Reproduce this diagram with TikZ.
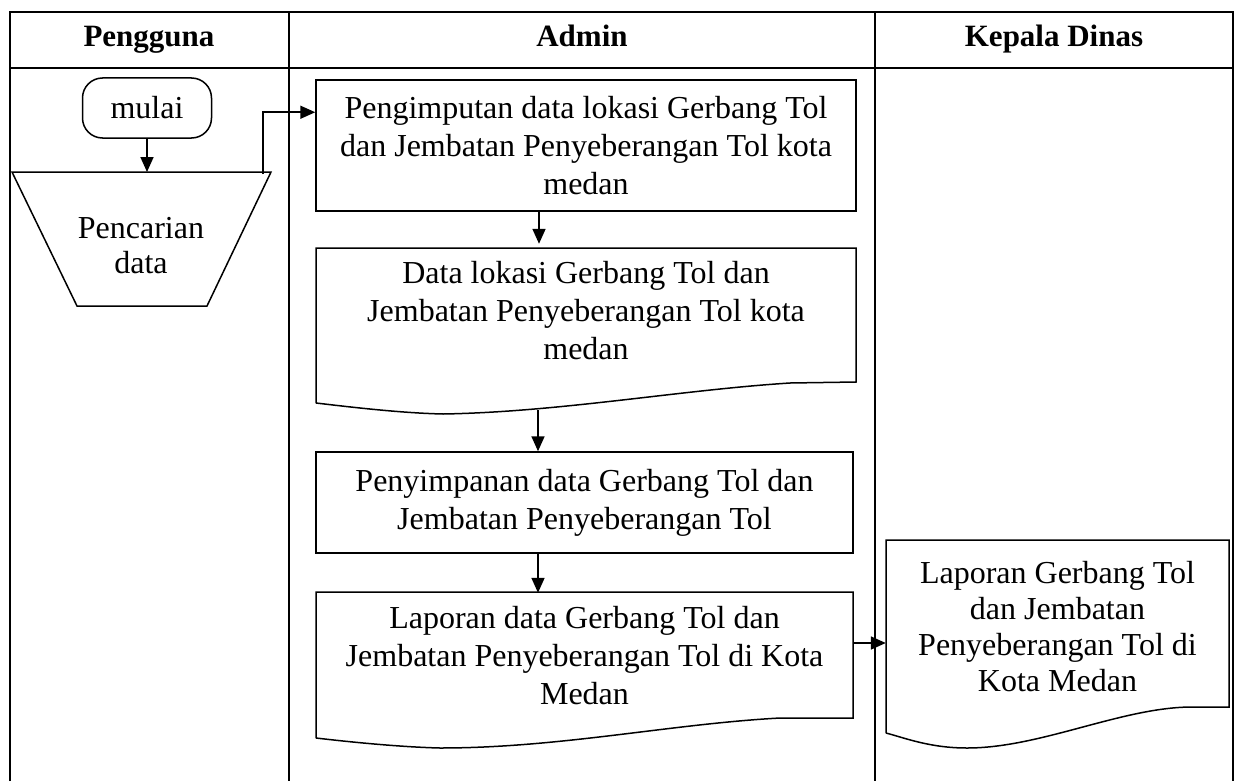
\documentclass[tikz,border=0pt]{standalone}
\usepackage{fontspec}
\setmainfont{Liberation Serif}
\usetikzlibrary{arrows.meta}
\begin{document}
\begin{tikzpicture}[x=1pt,y=-1pt,
  grid/.style={line width=1.7pt},
  shp/.style={line width=1.5pt},
  arr/.style={line width=1.7pt,-{Triangle[length=15pt,width=13pt]}},
  txt/.style={align=center,font=\fontsize{32}{38}\selectfont,inner sep=0pt},
  hdr/.style={align=center,font=\fontsize{31}{34}\selectfont\bfseries,inner sep=0pt,anchor=base},
  boxn/.style={draw,shp,txt}
]
\useasboundingbox (0,0) rectangle (1238,781);
% table
\draw[grid] (10,781) -- (10,12) -- (1233,12) -- (1233,781);
\draw[grid] (10,68) -- (1233,68);
\draw[grid] (289,12) -- (289,781);
\draw[grid] (875,12) -- (875,781);
\node[hdr] (h1) at (149,47) {Pengguna};
\node[hdr] (h2) at (582,47) {Admin};
\node[hdr] (h3) at (1054,47) {Kepala Dinas};
% mulai
\node[boxn,rounded corners=20pt,minimum width=129pt,minimum height=60pt] (mulai) at (147,108) {mulai};
% trapezoid
\draw[shp] (12,172) -- (271,172) -- (207,306) -- (77,306) -- cycle;
\node[txt,font=\fontsize{32}{35}\selectfont] (cari) at (141,246) {Pencarian\\data};
\coordinate (caritop) at (147,172);
\coordinate (cariout) at (263,174);
% box1
\node[boxn,minimum width=540pt,minimum height=131pt] (b1) at (586,145.5) {Pengimputan data lokasi Gerbang Tol\\dan Jembatan Penyeberangan Tol kota\\medan};
% doc2
\node[txt,minimum width=540pt,minimum height=134pt] (d2) at (586,311) {Data lokasi Gerbang Tol dan\\Jembatan Penyeberangan Tol kota\\medan};
\draw[shp] (316,403) -- (316,248) -- (856,248) -- (856,382) -- (790,383)
  .. controls (680,390) and (560,412) .. (443,414) .. controls (400,413) and (350,407) .. (316,403);
\coordinate (d2b) at (538,410);
% box3
\node[boxn,minimum width=537pt,minimum height=101pt] (b3) at (584.5,502.5) {Penyimpanan data Gerbang Tol dan\\Jembatan Penyeberangan Tol};
% doc4
\node[txt,minimum width=537pt,minimum height=126pt] (d4) at (584.5,656) {Laporan data Gerbang Tol dan\\Jembatan Penyeberangan Tol di Kota\\Medan};
\draw[shp] (316,738) -- (316,592) -- (853,592) -- (853,718) -- (780,718)
  .. controls (670,724) and (560,748) .. (440,748) .. controls (400,747) and (350,742) .. (316,738);
% doc5
\node[txt,font=\fontsize{32}{36}\selectfont,minimum width=343pt,minimum height=167pt] (d5) at (1057.5,627) {Laporan Gerbang Tol\\dan Jembatan\\Penyeberangan Tol di\\Kota Medan};
\draw[shp] (886,733) -- (886,540) -- (1229,540) -- (1229,707) -- (1190,707)
  .. controls (1120,708) and (1040,748) .. (967,748) .. controls (930,748) and (905,738) .. (886,733);
% connectors
\draw[arr] (mulai.south) -- (caritop);
\draw[arr] (cariout) |- ([yshift=-33pt]b1.north west);
\draw[arr] ([xshift=-47pt]b1.south) -- ([xshift=-47pt]b1.south |- d2.north);
\draw[arr] (d2b) -- (d2b |- b3.north);
\draw[arr] ([xshift=-46.5pt]b3.south) -- ([xshift=-46.5pt]b3.south |- d4.north);
\draw[arr] ([yshift=13pt]d4.east) -- ([yshift=13pt]d4.east -| d5.west);
\end{tikzpicture}
\end{document}
